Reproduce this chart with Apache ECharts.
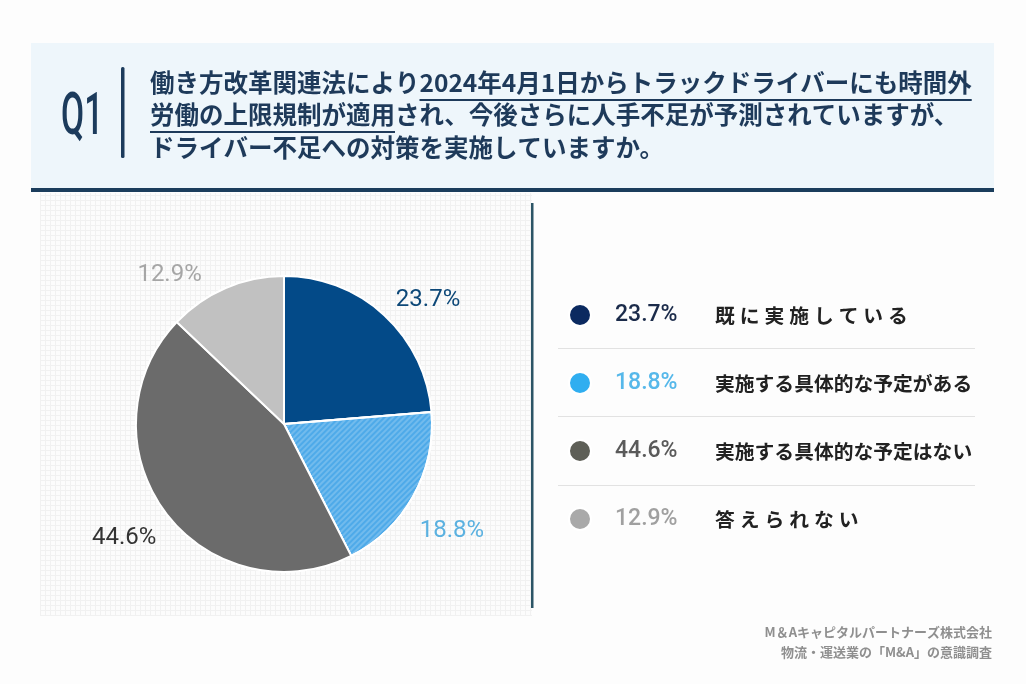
<!DOCTYPE html>
<html>
<head>
<meta charset="utf-8">
<style>
  html, body { margin: 0; padding: 0; background: #fdfdfd; }
  #chart { width: 1026px; height: 684px; }
</style>
<script src="https://cdn.jsdelivr.net/npm/echarts@6/dist/echarts.min.js"></script>
</head>
<body>
<div id="chart"></div>
<script>
// データ
const answerNames = ['既に実施している', '実施する具体的な予定がある', '実施する具体的な予定はない', '答えられない'];
const answerValues = [23.7, 18.8, 44.6, 12.9];
const sliceColors = ['#034a88', '#4eaae9', '#6b6b6b', '#c1c1c1'];
const pieLabelColors = ['#0d4878', '#5bb1e0', '#333333', '#a6a6a6'];
const dotColors = ['#0b2a60', '#30aef0', '#5e5f57', '#a9a9a9'];
const pctColors = ['#1b2b4a', '#56b8ea', '#5a5a5a', '#a0a0a0'];

// 設問テキスト（[前, 下線, 後]）
const titleLines = [
  ['働き方改革関連法により', '2024年4月1日からトラックドライバーにも時間外', ''],
  ['', '労働の上限規制が適用', 'され、今後さらに人手不足が予測されていますが、'],
  ['ドライバー不足への対策を実施していますか。', '', '']
];
const footerLines = ['M＆Aキャピタルパートナーズ株式会社', '物流・運送業の「M&A」の意識調査'];

const NAVY = '#1c3b5c';
const CJK = '"Noto Sans CJK JP", sans-serif';
const NUM = 'Roboto, "Noto Sans", sans-serif';
const TITLE_FONT = 'bold 24.5px "Noto Sans CJK JP"';

const chart = echarts.init(document.getElementById('chart'));

// テキスト幅の計測
const measure = (() => {
  const ctx = document.createElement('canvas').getContext('2d');
  return (text, font) => { ctx.font = font; return ctx.measureText(text).width; };
})();

// 方眼パターン
const makeGrid = () => {
  const c = document.createElement('canvas');
  c.width = 5; c.height = 5;
  const g = c.getContext('2d');
  g.fillStyle = '#fcfcfc';
  g.fillRect(0, 0, 5, 5);
  g.fillStyle = '#f1f1f1';
  g.fillRect(0, 0, 5, 1);
  g.fillRect(0, 0, 1, 5);
  return c;
};

const graphics = [];
// ヘッダー
graphics.push({ type: 'rect', shape: { x: 31, y: 43, width: 963, height: 146 }, style: { fill: '#eef6fb' }, silent: true });
graphics.push({ type: 'rect', shape: { x: 31, y: 188, width: 963, height: 4 }, style: { fill: '#1b3d5c' }, silent: true });
graphics.push({
  type: 'text', x: 61, y: 119, scaleX: 0.56, originX: 0, originY: 0,
  style: { text: 'Q1', fill: NAVY, font: '500 60px ' + NUM, textVerticalAlign: 'middle' }, silent: true
});
graphics.push({ type: 'rect', shape: { x: 121, y: 67, width: 3.5, height: 91, r: 1.5 }, style: { fill: NAVY }, silent: true });

const lineYs = [83, 115, 148];
titleLines.forEach((parts, i) => {
  const text = parts.join('');
  graphics.push({
    type: 'text', x: 150, y: lineYs[i],
    style: { text: text, fill: '#1e3a5a', font: TITLE_FONT, textVerticalAlign: 'middle' }, silent: true
  });
  if (parts[1]) {
    const x0 = 150 + measure(parts[0], TITLE_FONT);
    const w = measure(parts[1], TITLE_FONT);
    graphics.push({ type: 'rect', shape: { x: x0, y: lineYs[i] + 16, width: w, height: 2 }, style: { fill: '#1e3a5a' }, silent: true });
  }
});

// 左パネル方眼
graphics.push({ type: 'rect', z: -10, shape: { x: 40, y: 193, width: 492, height: 423 }, style: { fill: { image: makeGrid(), repeat: 'repeat' } }, silent: true });
// 区切り線
graphics.push({ type: 'rect', shape: { x: 531, y: 203, width: 2.5, height: 405 }, style: { fill: '#2c5566' }, silent: true });
// 凡例の区切り線
[348, 416, 485].forEach(y => {
  graphics.push({ type: 'rect', shape: { x: 558, y: y, width: 417, height: 1 }, style: { fill: '#e2e2e2' }, silent: true });
});
// 出典
footerLines.forEach((t, i) => {
  graphics.push({
    type: 'text', x: 992, y: 632 + i * 20,
    style: { text: t, fill: '#8f8f8f', font: 'bold 13px ' + CJK, textAlign: 'right', textVerticalAlign: 'middle' }, silent: true
  });
});

// 凡例テキスト（短いラベルは字間を広げる）
const spaced = (s) => s.length < 10 ? s.split('').join('\u2005') : s;

const rich = { s: { width: 19 }, n: { fontFamily: CJK, fontSize: 19.8, fontWeight: 'bold', color: '#222', lineHeight: 24 } };
pctColors.forEach((c, i) => {
  rich['p' + i] = { fontFamily: NUM, fontSize: 23, fontWeight: 500, color: c, width: 100, lineHeight: 24 };
});

const pieOffsets = [[-12, 0], [-21, 25], [17, 14], [-6, 5]];

const option = {
  backgroundColor: '#fdfdfd',
  animation: false,
  graphic: graphics,
  legend: {
    orient: 'vertical',
    left: 568,
    top: 303,
    padding: 0,
    itemWidth: 22,
    itemHeight: 22,
    itemGap: 44,
    icon: 'circle',
    selectedMode: false,
    data: answerNames.map((n, i) => ({ name: n, itemStyle: { color: dotColors[i], decal: 'none' } })),
    formatter: (name) => {
      const i = answerNames.indexOf(name);
      return '{s| }{p' + i + '|' + answerValues[i].toFixed(1) + '%}{n|' + spaced(name) + '}';
    },
    textStyle: { rich: rich }
  },
  series: [
    {
      type: 'pie',
      center: [284, 424],
      radius: [0, 148],
      startAngle: 90,
      clockwise: true,
      silent: true,
      itemStyle: { borderColor: '#ffffff', borderWidth: 2 },
      label: {
        show: true,
        position: 'outside',
        fontFamily: NUM,
        fontSize: 24,
        formatter: (p) => p.value.toFixed(1) + '%'
      },
      labelLine: { show: false, length: 20, length2: 5 },
      data: answerNames.map((n, i) => ({
        name: n,
        value: answerValues[i],
        itemStyle: Object.assign({ color: sliceColors[i] }, i === 1 ? {
          decal: {
            symbol: 'rect', symbolSize: 1,
            dashArrayX: [1, 0], dashArrayY: [2, 2],
            rotation: -Math.PI / 4,
            color: 'rgba(255,255,255,0.2)'
          }
        } : {}),
        label: { color: pieLabelColors[i], offset: pieOffsets[i] }
      }))
    }
  ]
};

chart.setOption(option);
</script>
</body>
</html>
